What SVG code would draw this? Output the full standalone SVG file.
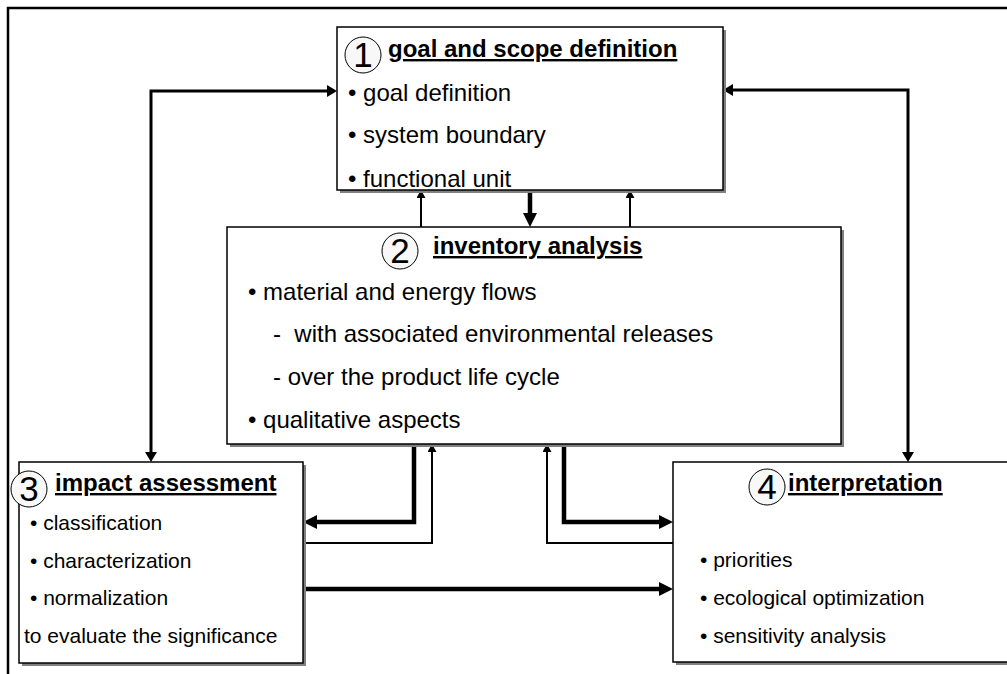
<svg xmlns="http://www.w3.org/2000/svg" width="1007" height="674" viewBox="0 0 1007 674">
<style>
.frame{fill:none;stroke:#000;stroke-width:2.5}
.box{fill:#fff;stroke:#000;stroke-width:1.5}
.shadow{fill:#808080}
.num{fill:#f8f8f8;stroke:#000;stroke-width:1}
.digit{font-family:"Liberation Sans",Arial,sans-serif;font-size:35px;text-anchor:middle;fill:#000}
.title{font-family:"Liberation Sans",Arial,sans-serif;font-size:24px;font-weight:bold;text-decoration:underline;fill:#000}
.t24{font-family:"Liberation Sans",Arial,sans-serif;font-size:24px;fill:#000}
.t21{font-family:"Liberation Sans",Arial,sans-serif;font-size:21px;fill:#000}
.thick{fill:none;stroke:#000;stroke-width:4.5}
.med{fill:none;stroke:#000;stroke-width:3}
.thin{fill:none;stroke:#000;stroke-width:2}
</style>
<defs>
<marker id="mThick" markerUnits="userSpaceOnUse" viewBox="0 0 14 14" markerWidth="14" markerHeight="14" refX="0" refY="7" orient="auto"><path d="M0,0 L14,7 L0,14 z" fill="#000"/></marker>
<marker id="mMed" markerUnits="userSpaceOnUse" viewBox="0 0 10 12" markerWidth="10" markerHeight="12" refX="0" refY="6" orient="auto-start-reverse"><path d="M0,0 L10,6 L0,12 z" fill="#000"/></marker>
<marker id="mThin" markerUnits="userSpaceOnUse" viewBox="0 0 8 9" markerWidth="8" markerHeight="9" refX="0" refY="4.5" orient="auto"><path d="M0,0 L8,4.5 L0,9 z" fill="#000"/></marker>
</defs>

<path class="frame" d="M8,674 V8 H1007"/>

<g id="connectors">
<path class="med" d="M151,452 V91 H327" marker-start="url(#mMed)" marker-end="url(#mMed)"/>
<path class="med" d="M733,90 H908 V452" marker-start="url(#mMed)" marker-end="url(#mMed)"/>
<path class="thin" d="M421,227 V198" marker-end="url(#mThin)"/>
<path class="thin" d="M630,227 V198" marker-end="url(#mThin)"/>
<path class="thick" d="M530,190 V213" marker-end="url(#mThick)"/>
<path class="thick" d="M414,444 V522 H317" marker-end="url(#mThick)"/>
<path class="thin" d="M303,543 H432 V452" marker-end="url(#mThin)"/>
<path class="thin" d="M673,543 H547 V452" marker-end="url(#mThin)"/>
<path class="thick" d="M564,444 V522 H659" marker-end="url(#mThick)"/>
<path class="thick" d="M303,589 H659" marker-end="url(#mThick)"/>
</g>

<g id="goal-scope">
<rect class="shadow" x="340" y="30" width="386" height="163"/>
<rect class="box" x="337" y="27" width="386" height="163"/>
<circle class="num" cx="363" cy="55" r="18"/>
<text class="digit" x="363" y="67">1</text>
<text class="title" x="388" y="57">goal and scope definition</text>
<text class="t24" x="348" y="101">• goal definition</text>
<text class="t24" x="348" y="143">• system boundary</text>
<text class="t24" x="348" y="187">• functional unit</text>
</g>

<g id="inventory">
<rect class="shadow" x="230" y="230" width="614" height="217"/>
<rect class="box" x="227" y="227" width="614" height="217"/>
<circle class="num" cx="400" cy="251" r="18"/>
<text class="digit" x="400" y="263">2</text>
<text class="title" x="433" y="254">inventory analysis</text>
<text class="t24" x="248" y="300">• material and energy flows</text>
<text class="t24" x="273" y="342">-&#160; with associated environmental releases</text>
<text class="t24" x="273" y="385">- over the product life cycle</text>
<text class="t24" x="248" y="428">• qualitative aspects</text>
</g>

<g id="impact">
<rect class="shadow" x="22" y="465" width="284" height="201"/>
<rect class="box" x="19" y="462" width="284" height="201"/>
<circle class="num" cx="29" cy="489" r="18"/>
<text class="digit" x="29" y="501">3</text>
<text class="title" x="55" y="491">impact assessment</text>
<text class="t21" x="30" y="530">• classification</text>
<text class="t21" x="30" y="568">• characterization</text>
<text class="t21" x="30" y="605">• normalization</text>
<text class="t21" x="24" y="643">to evaluate the significance</text>
</g>

<g id="interpretation">
<rect class="shadow" x="676" y="465" width="340" height="200"/>
<rect class="box" x="673" y="462" width="340" height="200"/>
<circle class="num" cx="767" cy="487" r="18"/>
<text class="digit" x="767" y="499">4</text>
<text class="title" x="788" y="491">interpretation</text>
<text class="t21" x="700" y="567">• priorities</text>
<text class="t21" x="700" y="605">• ecological optimization</text>
<text class="t21" x="700" y="643">• sensitivity analysis</text>
</g>
</svg>
